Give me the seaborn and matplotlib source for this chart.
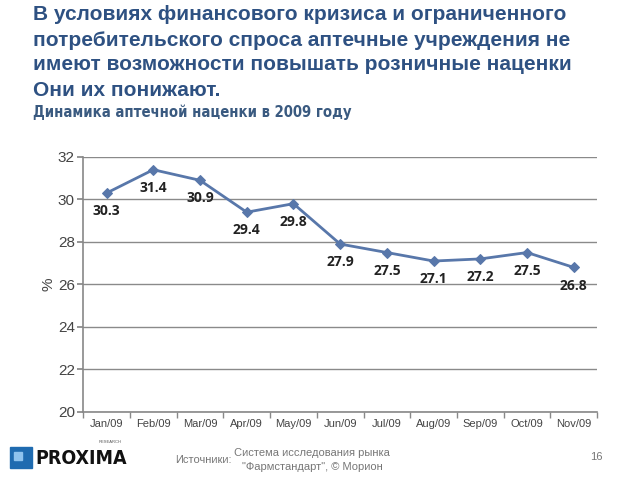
import matplotlib
matplotlib.use("Agg")
import matplotlib.pyplot as plt
import seaborn as sns
import pandas as pd
from matplotlib.patches import Rectangle

months = ["Jan/09", "Feb/09", "Mar/09", "Apr/09", "May/09", "Jun/09",
          "Jul/09", "Aug/09", "Sep/09", "Oct/09", "Nov/09"]
markup = [30.3, 31.4, 30.9, 29.4, 29.8, 27.9, 27.5, 27.1, 27.2, 27.5, 26.8]
yticks = [20, 22, 24, 26, 28, 30, 32]

title_lines = ["В условиях финансового кризиса и ограниченного",
               "потребительского спроса аптечные учреждения не",
               "имеют возможности повышать розничные наценки",
               "Они их понижают."]
subtitle = "Динамика аптечной наценки в 2009 году"

sns.set_theme(style="white")
plt.rcParams['font.family'] = ['Liberation Sans', 'DejaVu Sans']

df = pd.DataFrame({"month": months, "value": markup})
df["idx"] = range(len(months))

fig = plt.figure(figsize=(6.4, 4.8), dpi=100)
ax = fig.add_axes([0.130, 0.142, 0.803, 0.531])

line_color = "#5877AA"
sns.lineplot(data=df, x="idx", y="value", ax=ax, color=line_color,
             linewidth=2, marker="D", markersize=5, markeredgecolor=line_color)

for i, v in enumerate(markup):
    ax.annotate(f"{v:.1f}", (i, v), xytext=(0, -8), textcoords="offset points",
                ha="center", va="top", fontsize=10, fontweight="bold",
                color="#222222", family=["Open Sans", "DejaVu Sans"])

ax.set_xlim(-0.5, len(months) - 0.5)
ax.set_ylim(20, 32)
ax.set_yticks(yticks)
ax.set_yticklabels([str(t) for t in yticks], fontsize=11, color="#444444")
ax.set_xticks(range(len(months)))
ax.set_xticklabels(months, fontsize=8, color="#444444")
ax.set_xticks([i - 0.5 for i in range(len(months) + 1)], minor=True)
ax.tick_params(axis="x", which="major", length=0, pad=5)
ax.tick_params(axis="x", which="minor", length=4, color="#888888", direction="out", bottom=True)
ax.tick_params(axis="y", which="major", length=4, color="#888888", direction="out", left=True, pad=2)
ax.set_xlabel("")
ax.set_ylabel("%", fontsize=11, color="#444444", labelpad=2)

ax.grid(axis="y", color="#8a8a8a", linewidth=1)
ax.set_axisbelow(True)
for s in ["top", "right"]:
    ax.spines[s].set_visible(False)
for s in ["left", "bottom"]:
    ax.spines[s].set_color("#888888")
    ax.spines[s].set_linewidth(1.2)

title_color = "#2E5182"
for k, line in enumerate(title_lines):
    fig.text(33 / 640, 1 - (15 + 25 * k) / 480, line, fontsize=15, fontweight="bold",
             color=title_color, ha="left", va="center")
fig.text(33 / 640, 1 - 112 / 480, subtitle, fontsize=10.6, fontweight="bold",
         color="#3A5A80", ha="left", va="center",
         family="DejaVu Sans", fontstretch="condensed")

# logo
fig.patches.append(Rectangle((10 / 640, 1 - 468 / 480), 22 / 640, 21 / 480,
                             transform=fig.transFigure, color="#1F6BB0", zorder=5))
fig.patches.append(Rectangle((14 / 640, 1 - 460 / 480), 8 / 640, 8 / 480,
                             transform=fig.transFigure, color="#8FC3EE", zorder=6))
fig.text(35 / 640, 1 - 458 / 480, "PROXIMA", fontsize=14, fontweight="bold",
         color="#111111", ha="left", va="center",
         family="DejaVu Sans", fontstretch="condensed")
fig.text(122 / 640, 1 - 442 / 480, "RESEARCH", fontsize=3, color="#555555",
         ha="right", va="center")

fig.text(175 / 640, 1 - 460 / 480, "Источники:", fontsize=8, color="#777777",
         ha="left", va="center")
fig.text(312 / 640, 1 - 453 / 480, "Система исследования рынка", fontsize=8,
         color="#777777", ha="center", va="center")
fig.text(312 / 640, 1 - 467 / 480, "\"Фармстандарт\", © Морион", fontsize=8,
         color="#777777", ha="center", va="center")
fig.text(596 / 640, 1 - 457 / 480, "16", fontsize=8, color="#777777",
         ha="center", va="center")

fig.savefig("out.png", dpi=100)
